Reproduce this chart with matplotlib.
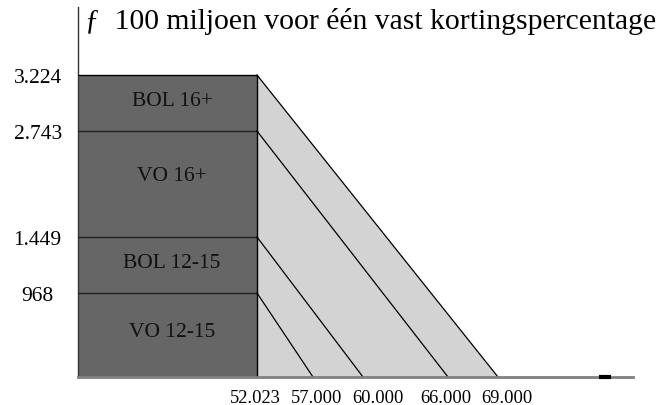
import matplotlib
matplotlib.use("Agg")
import matplotlib.pyplot as plt
import matplotlib.transforms as mtrans
import numpy as np

plt.rcParams['font.family'] = ['Liberation Serif', 'DejaVu Serif']

# data
groups = ['VO 12-15', 'BOL 12-15', 'VO 16+', 'BOL 16+']
cum_levels = [968, 1449, 2743, 3224]          # cumulative amounts (y axis)
end_points = [57000, 60000, 66000, 69000]     # where each line hits the axis
start_x = 52023
y_tick_labels = ['968', '1.449', '2.743', '3.224']
x_tick_vals = [52023, 57000, 60000, 66000, 69000]
x_tick_labels = ['52.023', '57.000', '60.000', '66.000', '69.000']
title = 'ƒ  100 miljoen voor één vast kortingspercentage'

# schematic (non linear) axes: value -> pixel knots
x_val_knots = [0, 52023, 57000, 60000, 66000, 69000, 90000]
x_px_knots = [0, 179, 235, 285, 370, 420, 555]
y_val_knots = [0, 968, 1449, 2743, 3224, 4000]
y_px_knots = [0, 84, 140, 246, 302, 370]
# label nudges (pixels) as in the original drawing
x_label_shift = [-2, 3.5, 15, -2.5, 9]


def make_scale(vals, px):
    vals = np.array(vals, float)
    px = np.array(px, float)
    fwd = lambda v: np.interp(v, vals, px)
    inv = lambda p: np.interp(p, px, vals)
    return fwd, inv


fig = plt.figure(figsize=(6.64, 4.06), dpi=100)
ax = fig.add_axes([78 / 664, (406 - 378) / 406, (633 - 78) / 664, (378 - 8) / 406])
ax.set_xscale('function', functions=make_scale(x_val_knots, x_px_knots))
ax.set_yscale('function', functions=make_scale(y_val_knots, y_px_knots))
ax.set_xlim(0, 90000)
ax.set_ylim(0, 4000)

dark = '#666666'
light = '#d3d3d3'

# light gray triangle
ax.fill([start_x, start_x, end_points[-1]], [0, cum_levels[-1], 0],
        color=light, lw=0, zorder=1)

# dark bands with their labels (placed in pixel space)
prev = 0
for g, lev in zip(groups, cum_levels):
    ax.fill([0, start_x, start_x, 0], [prev, prev, lev, lev],
            color=dark, lw=0, zorder=2)
    p0 = np.interp(prev, y_val_knots, y_px_knots)
    p1 = np.interp(lev, y_val_knots, y_px_knots)
    pm = (p0 + p1) / 2 + 3
    if g == 'VO 16+':
        pm = p1 - 45
    ym = np.interp(pm, y_px_knots, y_val_knots)
    xm = np.interp(94, x_px_knots, x_val_knots)
    ax.text(xm, ym, g, ha='center', va='center', fontsize=15.5,
            color='#111111', zorder=4)
    prev = lev

# separators and outline
for lev in cum_levels[:-1]:
    ax.plot([0, start_x], [lev, lev], color='#222222', lw=1, zorder=3)
ax.plot([0, start_x, start_x], [cum_levels[-1], cum_levels[-1], 0],
        color='black', lw=1, zorder=3)
# diagonal lines
for lev, xe in zip(cum_levels, end_points):
    ax.plot([start_x, xe], [lev, 0], color='black', lw=0.9, zorder=3)

for s in ['top', 'right']:
    ax.spines[s].set_visible(False)
ax.spines['left'].set_color('#333333')
ax.spines['left'].set_linewidth(1)
ax.spines['bottom'].set_color('#808080')
ax.spines['bottom'].set_linewidth(2)
ax.spines['bottom'].set_zorder(5)

# small black mark on the axis
ax.plot([521 / 555, 533 / 555], [0, 0], transform=ax.transAxes,
        color='black', lw=3, solid_capstyle='butt', clip_on=False, zorder=6)

ax.set_yticks(cum_levels)
ax.set_yticklabels(y_tick_labels, fontsize=15.5)
ax.tick_params(axis='y', length=0, pad=29)
for lab in ax.get_yticklabels():
    lab.set_ha('center')
ax.set_xticks(x_tick_vals)
ax.set_xticklabels(x_tick_labels, fontsize=13.3)
ax.tick_params(axis='x', length=0, pad=9)
for lab, dx in zip(ax.get_xticklabels(), x_label_shift):
    lab.set_transform(lab.get_transform() +
                      mtrans.ScaledTranslation(dx / 100, 0, fig.dpi_scale_trans))
ax.minorticks_off()

fig.text(85 / 664, (406 - 29) / 406, title, fontsize=21.3, ha='left',
         va='baseline')

fig.savefig('out.png', dpi=100)
